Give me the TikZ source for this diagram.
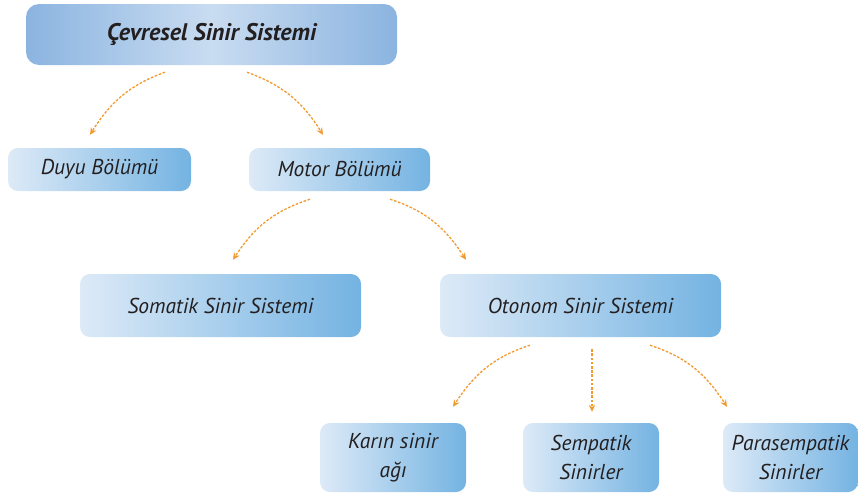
\documentclass[tikz,border=0pt]{standalone}
\usepackage{fontspec}
\setmainfont{PT Sans}
\usetikzlibrary{arrows.meta}

\definecolor{boxlight}{HTML}{DDEAF7}
\definecolor{boxdark}{HTML}{74B3E2}
\definecolor{topedge}{HTML}{8BB4E0}
\definecolor{topmid}{HTML}{C9DCF1}
\definecolor{linkorange}{HTML}{F29A2E}
\definecolor{txt}{HTML}{231F20}

\begin{document}
\begin{tikzpicture}[x=1pt,y=1pt,
  box/.style={rounded corners=10pt, left color=boxlight, right color=boxdark,
    text=txt, align=center, inner sep=0pt,
    font=\fontsize{21.5}{29}\selectfont\itshape},
  topbox/.style={box, rounded corners=13pt, left color=topedge, right color=topedge,
    middle color=topmid, font=\fontsize{24}{28}\selectfont\bfseries\itshape},
  link/.style={draw=linkorange, line width=1.3pt, dash pattern=on 2.6pt off 1.6pt,
    -{Stealth[length=7pt,width=6.5pt]}}]
\useasboundingbox (0,0) rectangle (858,-493);

\node[topbox, minimum width=371pt, minimum height=61pt] (cevre) at (211.5,-34.5) {Çevresel Sinir Sistemi};
\node[box, minimum width=183pt, minimum height=43pt] (duyu) at (99.5,-169.5) {Duyu Bölümü};
\node[box, minimum width=181pt, minimum height=43pt] (motor) at (339.5,-169.5) {Motor Bölümü};
\node[box, minimum width=281pt, minimum height=63pt] (somatik) at (220.5,-305.5) {Somatik Sinir Sistemi};
\node[box, minimum width=281pt, minimum height=63pt] (otonom) at (580.5,-305.5) {Otonom Sinir Sistemi};
\node[box, minimum width=146pt, minimum height=69pt] (karin) at (393,-457.5) {Karın sinir\\ağı};
\node[box, minimum width=136pt, minimum height=69pt] (sempatik) at (591,-457.5) {Sempatik\\Sinirler};
\node[box, minimum width=135pt, minimum height=69pt] (para) at (790.5,-457.5) {Parasempatik\\Sinirler};

% arrows
\draw[link] ([xshift=-46.5pt,yshift=-7pt]cevre.south) to[out=200,in=58] ([xshift=-9.5pt,yshift=13pt]duyu.north);
\draw[link] ([xshift=35.5pt,yshift=-7pt]cevre.south) to[out=340,in=122] ([xshift=-16.5pt,yshift=13pt]motor.north);
\draw[link] ([xshift=-29.5pt,yshift=-8pt]motor.south) to[out=198,in=57] ([xshift=12.5pt,yshift=14pt]somatik.north);
\draw[link] ([xshift=50.5pt,yshift=-8pt]motor.south) to[out=342,in=123] ([xshift=-114.5pt,yshift=14pt]otonom.north);
\draw[link] ([xshift=-50.5pt,yshift=-8pt]otonom.south) to[out=198,in=57] ([xshift=60pt,yshift=16pt]karin.north);
\draw[link] ([xshift=11.5pt,yshift=-12pt]otonom.south) -- ([xshift=1pt,yshift=11pt]sempatik.north);
\draw[link] ([xshift=69.5pt,yshift=-8pt]otonom.south) to[out=342,in=123] ([xshift=-63.5pt,yshift=16pt]para.north);
\end{tikzpicture}
\end{document}
